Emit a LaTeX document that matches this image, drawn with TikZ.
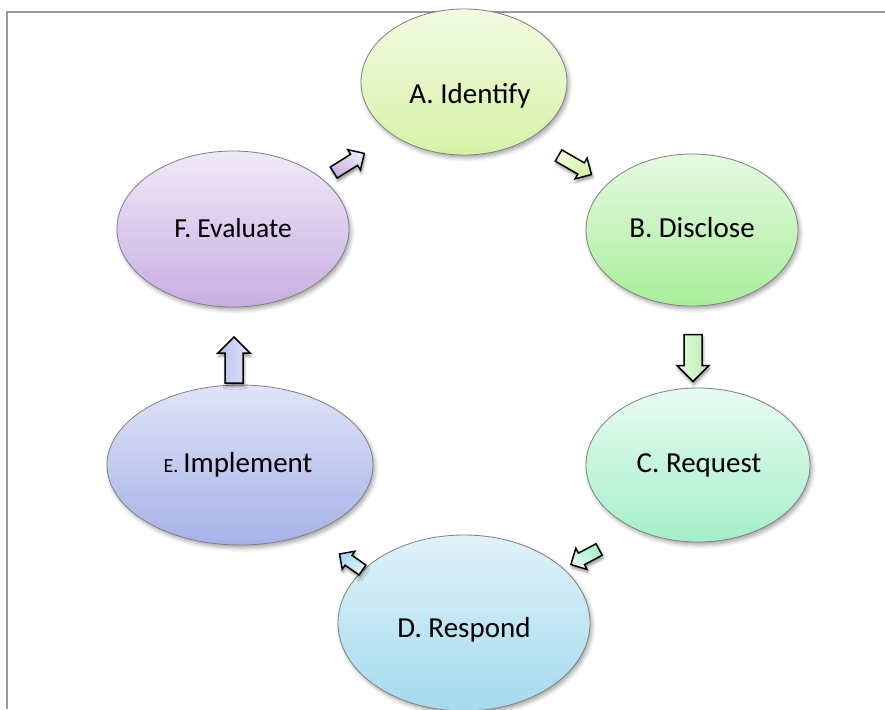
\documentclass[tikz,border=0pt]{standalone}
\usepackage{fontspec}
\setmainfont{Carlito}
\usetikzlibrary{shapes.geometric,shadows.blur}

% gradient pairs for the six stages
\definecolor{aTop}{HTML}{F2FBE2}\definecolor{aBot}{HTML}{D6F2A6}
\definecolor{bTop}{HTML}{E6F9E2}\definecolor{bBot}{HTML}{A8EE9A}
\definecolor{cTop}{HTML}{E9FBF2}\definecolor{cBot}{HTML}{A4EFC9}
\definecolor{dTop}{HTML}{E0F2F8}\definecolor{dBot}{HTML}{A4DAEE}
\definecolor{eTop}{HTML}{E0E4F7}\definecolor{eBot}{HTML}{A6B1E8}
\definecolor{fTop}{HTML}{F0E9F8}\definecolor{fBot}{HTML}{C8AEE2}
\definecolor{frameGray}{HTML}{9A9A9A}

\tikzset{
  stage/.style={ellipse, draw=black!50, line width=0.8pt, inner sep=0pt,
    blur shadow={shadow xshift=2pt, shadow yshift=-3pt, shadow blur radius=4pt, shadow opacity=35}},
  label/.style={font=\fontsize{29}{34}\selectfont, inner sep=0pt},
  blockarrow/.style={draw=black, line width=1.5pt, line join=miter,
    blur shadow={shadow xshift=1pt, shadow yshift=-3pt, shadow blur radius=3pt, shadow opacity=45}},
}

% block arrow centred on a coordinate:
% #1 coordinate, #2 angle, #3 length, #4 head half-width, #5 shaft half-width, #6 top colour, #7 bottom colour
\newcommand\blockarr[7]{%
  \draw[blockarrow, shift={(#1)}, rotate=#2, top color=#6, bottom color=#7, shading angle=-#2]
    (-#3/2,-#5) -- (#3/2-#4,-#5) -- (#3/2-#4,-#4) -- (#3/2,0)
    -- (#3/2-#4,#4) -- (#3/2-#4,#5) -- (-#3/2,#5) -- cycle;}

\begin{document}
\begin{tikzpicture}[x=1pt, y=-1pt]
  \useasboundingbox (0,0) rectangle (885,709);

  % page frame (left and top edges)
  \draw[frameGray, line width=2pt] (7,709) -- (7,12) -- (885,12);

  % stages, drawn as shaded ellipses
  \node[stage, top color=aTop, bottom color=aBot, minimum width=206pt, minimum height=146pt] (A) at (464,82) {};
  \node[stage, top color=bTop, bottom color=bBot, minimum width=212pt, minimum height=152pt] (B) at (692,230) {};
  \node[stage, top color=cTop, bottom color=cBot, minimum width=224pt, minimum height=154pt] (C) at (698,465) {};
  \node[stage, top color=dTop, bottom color=dBot, minimum width=252pt, minimum height=176pt] (D) at (464,623) {};
  \node[stage, top color=eTop, bottom color=eBot, minimum width=266pt, minimum height=160pt] (E) at (240,465) {};
  \node[stage, top color=fTop, bottom color=fBot, minimum width=232pt, minimum height=156pt] (F) at (233,229) {};

  % stage captions
  \node[label] (At) at (470,96) {A. Identify};
  \node[label] (Bt) at (692,228) {B. Disclose};
  \node[label] (Ct) at (699,465) {C. Request};
  \node[label] (Dt) at (464,630) {D. Respond};
  \node[label] (Et) at (238,465) {{\fontsize{20}{24}\selectfont E.}\,Implement};
  \node[label, font=\fontsize{27.5}{32}\selectfont] (Ft) at (233,228) {F. Evaluate};

  % anchor points of the block arrows between consecutive stages
  \coordinate (AB) at (575,165);
  \coordinate (BC) at (693,358);
  \coordinate (CD) at (585,557);
  \coordinate (DE) at (351,562);
  \coordinate (EF) at (234,360);
  \coordinate (FA) at (349,163);

  \blockarr{AB}{-30}{38}{12}{6.5}{aTop}{aBot}
  \blockarr{BC}{-90}{47}{16}{9}{bTop}{bBot!85!white}
  \blockarr{CD}{208}{32}{12}{6.5}{cTop}{cBot}
  \blockarr{DE}{145}{28}{11}{6}{dTop}{dBot}
  \blockarr{EF}{90}{46}{16}{9}{eTop}{eBot!80!white}
  \blockarr{FA}{32}{36}{12}{6.5}{fTop}{fBot}
\end{tikzpicture}
\end{document}
